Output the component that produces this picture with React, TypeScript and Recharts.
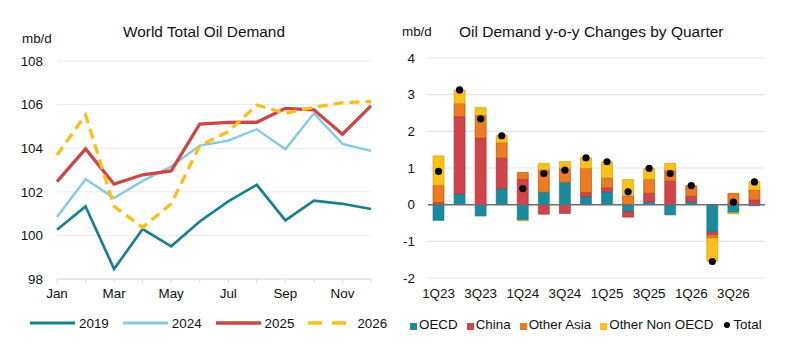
import {
  LineChart,
  Line,
  XAxis,
  YAxis,
  CartesianGrid,
  ComposedChart,
  Bar,
  ReferenceLine,
} from 'recharts';

const MONTHS = ['Jan', 'Feb', 'Mar', 'Apr', 'May', 'Jun', 'Jul', 'Aug', 'Sep', 'Oct', 'Nov', 'Dec'];
const DEMAND_2019 = [100.26, 101.33, 98.46, 100.29, 99.5, 100.64, 101.56, 102.32, 100.69, 101.59, 101.45, 101.21];
const DEMAND_2024 = [100.84, 102.58, 101.71, 102.5, 103.16, 104.12, 104.35, 104.87, 103.95, 105.6, 104.2, 103.88];
const DEMAND_2025 = [102.47, 103.97, 102.35, 102.78, 102.96, 105.11, 105.18, 105.19, 105.83, 105.76, 104.64, 105.94];
const DEMAND_2026 = [103.69, 105.53, 101.33, 100.37, 101.45, 104.12, 104.76, 105.98, 105.6, 105.88, 106.09, 106.14];
const LEFT_TICKS = [98, 100, 102, 104, 106, 108];

const QUARTERS = [
  '1Q23', '2Q23', '3Q23', '4Q23', '1Q24', '2Q24', '3Q24', '4Q24',
  '1Q25', '2Q25', '3Q25', '4Q25', '1Q26', '2Q26', '3Q26', '4Q26',
];
const OECD = [-0.43, 0.3, -0.31, 0.44, -0.42, 0.34, 0.61, 0.22, 0.35, -0.19, 0.08, -0.28, 0.08, -0.75, -0.22, -0.03];
const CHINA = [0.06, 2.1, 1.82, 0.83, 0.69, -0.26, -0.24, 0.11, 0.11, -0.15, 0.23, 0.64, 0.15, -0.07, 0.04, 0.13];
const OTHER_ASIA = [0.47, 0.36, 0.62, 0.42, 0.19, 0.61, 0.38, 0.66, 0.27, 0.24, 0.38, 0.3, 0.28, -0.09, 0.27, 0.27];
const OTHER_NON_OECD = [0.8, 0.37, 0.21, 0.2, -0.02, 0.18, 0.19, 0.29, 0.44, 0.45, 0.3, 0.19, 0.02, -0.63, -0.03, 0.23];
const TOTAL = [0.91, 3.13, 2.34, 1.88, 0.44, 0.85, 0.94, 1.28, 1.17, 0.35, 0.99, 0.85, 0.52, -1.55, 0.07, 0.62];
const RIGHT_TICKS = [-2, -1, 0, 1, 2, 3, 4];

const FONT = '"Liberation Sans", Arial, sans-serif';
const TXT = '#111';
const FS = 13.4;

const C2019 = '#19808f';
const C2024 = '#86cbe0';
const C2025 = '#cc4646';
const C2026 = '#fbbf1c';

const C_OECD = '#1a8b9c';
const C_CHINA = '#d0444a';
const C_ASIA = '#ee7b22';
const C_NONOECD = '#fcc116';

const lineData = MONTHS.map((m, i) => ({
  month: m,
  y2019: DEMAND_2019[i],
  y2024: DEMAND_2024[i],
  y2025: DEMAND_2025[i],
  y2026: DEMAND_2026[i],
}));

const barData = QUARTERS.map((q, i) => ({
  quarter: q,
  oecd: OECD[i],
  china: CHINA[i],
  asia: OTHER_ASIA[i],
  nonOecd: OTHER_NON_OECD[i],
  total: TOTAL[i],
}));

const tickStyle = { fontSize: FS, fill: TXT, fontFamily: FONT };

// month axis: tick mark every month, label every other month
function MonthTick(props: any) {
  const { x, y, payload, index } = props;
  if (index % 2 !== 0) return <g />;
  return (
    <text x={x} y={y} dy="0.71em" textAnchor="middle" style={tickStyle}>
      {payload.value}
    </text>
  );
}

function LeftLegend() {
  const items = [
    { label: '2019', color: C2019, w: 3, dash: undefined },
    { label: '2024', color: C2024, w: 3, dash: undefined },
    { label: '2025', color: C2025, w: 3.5, dash: undefined },
    { label: '2026', color: C2026, w: 3.5, dash: '14 10' },
  ];
  return (
    <div style={{ position: 'absolute', left: 30, top: 314, display: 'flex', alignItems: 'center', fontFamily: FONT, fontSize: FS, color: TXT }}>
      {items.map((it) => (
        <div key={it.label} style={{ display: 'flex', alignItems: 'center', marginRight: 14 }}>
          <svg width={45} height={18} style={{ marginRight: 4 }}>
            <line x1={0} y1={9} x2={45} y2={9} stroke={it.color} strokeWidth={it.w} strokeDasharray={it.dash} />
          </svg>
          <span>{it.label}</span>
        </div>
      ))}
    </div>
  );
}

function RightLegend() {
  const items = [
    { label: 'OECD', color: C_OECD },
    { label: 'China', color: C_CHINA },
    { label: 'Other Asia', color: C_ASIA },
    { label: 'Other Non OECD', color: C_NONOECD },
  ];
  return (
    <div style={{ position: 'absolute', left: 410, top: 317, display: 'flex', alignItems: 'center', fontFamily: FONT, fontSize: FS, color: TXT }}>
      {items.map((it) => (
        <div key={it.label} style={{ display: 'flex', alignItems: 'center', marginRight: 9 }}>
          <div style={{ width: 7, height: 7, background: it.color, marginRight: 2, marginTop: 3 }} />
          <span>{it.label}</span>
        </div>
      ))}
      <div style={{ display: 'flex', alignItems: 'center', marginLeft: 2 }}>
        <div style={{ width: 6, height: 6, borderRadius: 3, background: '#000', marginRight: 3, marginTop: 1 }} />
        <span>Total</span>
      </div>
    </div>
  );
}

export default function App() {
  return (
    <div style={{ position: 'absolute', left: 0, top: 0, width: 800, height: 360, background: '#fff', fontFamily: FONT }}>
      {/* left panel */}
      <div style={{ position: 'absolute', left: 0, top: 23, width: 408, textAlign: 'center', fontSize: 15.4, color: TXT }}>
        World Total Oil Demand
      </div>
      <div style={{ position: 'absolute', left: 22, top: 31, fontSize: FS, color: TXT }}>mb/d</div>
      <div style={{ position: 'absolute', left: 0, top: 0 }}>
        <LineChart width={400} height={310} data={lineData} margin={{ top: 61, right: 29, left: 0, bottom: 11 }}>
          <CartesianGrid vertical={false} stroke="#ebebeb" />
          <XAxis
            dataKey="month"
            interval={0}
            height={20}
            axisLine={{ stroke: '#d9d9d9' }}
            tickLine={{ stroke: '#d9d9d9' }}
            tickSize={4}
            tickMargin={5}
            tick={<MonthTick />}
          />
          <YAxis
            domain={[98, 108]}
            ticks={LEFT_TICKS}
            width={57}
            axisLine={false}
            tickLine={false}
            tickMargin={8}
            tick={tickStyle}
          />
          <Line dataKey="y2019" stroke={C2019} strokeWidth={2.7} dot={false} isAnimationActive={false} />
          <Line dataKey="y2024" stroke={C2024} strokeWidth={2.4} dot={false} isAnimationActive={false} />
          <Line dataKey="y2025" stroke={C2025} strokeWidth={3.3} dot={false} isAnimationActive={false} />
          <Line dataKey="y2026" stroke={C2026} strokeWidth={3.3} strokeDasharray="10 6" dot={false} isAnimationActive={false} />
        </LineChart>
      </div>
      <LeftLegend />

      {/* right panel */}
      <div style={{ position: 'absolute', left: 459, top: 23, fontSize: 15.5, color: TXT, whiteSpace: 'nowrap' }}>
        Oil Demand y-o-y Changes by Quarter
      </div>
      <div style={{ position: 'absolute', left: 402, top: 24, fontSize: FS, color: TXT }}>mb/d</div>
      <div style={{ position: 'absolute', left: 400, top: 0 }}>
        <ComposedChart
          width={400}
          height={310}
          data={barData}
          stackOffset="sign"
          barSize={11}
          margin={{ top: 58, right: 35, left: 0, bottom: 12 }}
        >
          <CartesianGrid vertical={false} stroke="#e3e3e3" strokeWidth={1.2} />
          <XAxis
            dataKey="quarter"
            interval={1}
            height={20}
            axisLine={false}
            tickLine={false}
            tickMargin={4}
            tick={tickStyle}
          />
          <YAxis
            domain={[-2, 4]}
            ticks={RIGHT_TICKS}
            width={28}
            axisLine={false}
            tickLine={false}
            tickMargin={7}
            tick={tickStyle}
          />
          <Bar dataKey="oecd" stackId="a" fill={C_OECD} stroke="#167585" strokeWidth={0.6} isAnimationActive={false} />
          <Bar dataKey="china" stackId="a" fill={C_CHINA} stroke="#9c2e30" strokeWidth={0.6} isAnimationActive={false} />
          <Bar dataKey="asia" stackId="a" fill={C_ASIA} stroke="#9a4e14" strokeWidth={0.6} isAnimationActive={false} />
          <Bar dataKey="nonOecd" stackId="a" fill={C_NONOECD} stroke="#c99a10" strokeWidth={0.6} isAnimationActive={false} />
          <ReferenceLine y={0} stroke="#6f6f6f" strokeWidth={1.5} />
          <Line
            dataKey="total"
            stroke="none"
            dot={{ r: 3.6, fill: '#000', stroke: '#000', strokeWidth: 0 }}
            activeDot={false}
            isAnimationActive={false}
          />
        </ComposedChart>
      </div>
      <RightLegend />
    </div>
  );
}
